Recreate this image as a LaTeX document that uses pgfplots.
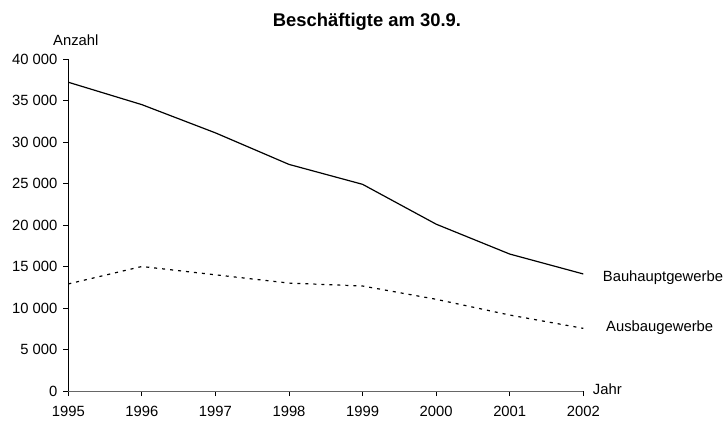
\documentclass[border=0pt]{standalone}
\usepackage{fontspec}
\setmainfont{Liberation Sans}
\usepackage{pgfplots}
\pgfplotsset{compat=1.18}
\begin{document}
\begin{tikzpicture}[x=1pt,y=1pt]
\path (0,0) rectangle (725,423);
\begin{axis}[
  at={(68.3pt,32pt)}, anchor=south west,
  scale only axis, width=515pt, height=332pt,
  xmin=1995, xmax=2002, ymin=0, ymax=40000,
  enlargelimits=false,
  scaled y ticks=false, scaled x ticks=false,
  axis x line*=bottom, axis y line*=left,
  x axis line style={black!60},
  tick align=outside, major tick length=5pt,
  tick style={black, line width=0.8pt},
  axis line style={line width=0.8pt},
  xtick={1995,1996,...,2002},
  xticklabels={1995,1996,1997,1998,1999,2000,2001,2002},
  ytick={0,5000,...,40000},
  yticklabels={0,5 000,10 000,15 000,20 000,25 000,30 000,35 000,40 000},
  tick label style={font=\fontsize{14.8}{17}\selectfont},
  xticklabel style={yshift=-7pt},
  yticklabel style={xshift=-2.5pt},
  clip=false,
]
\addplot[black, line width=1.2pt] coordinates {
 (1995,37200) (1996,34500) (1997,31100) (1998,27300) (1999,24900) (2000,20100) (2001,16500) (2002,14100)};
\addplot[black, line width=1.2pt, dash pattern=on 3pt off 5pt] coordinates {
 (1995,12900) (1996,15000) (1997,14000) (1998,13000) (1999,12650) (2000,11050) (2001,9150) (2002,7550)};
\end{axis}
\node[anchor=base, font=\fontsize{18.4}{21}\selectfont\bfseries] at (367,396.3) {Beschäftigte am 30.9.};
\node[anchor=base, inner sep=0pt, font=\fontsize{14.8}{17}\selectfont] at (75.8,377) {Anzahl};
\node[anchor=base west, inner sep=0pt, font=\fontsize{14.8}{17}\selectfont] at (592.7,29) {Jahr};
\node[anchor=base west, inner sep=0pt, font=\fontsize{14.8}{17}\selectfont] at (602.7,141.3) {Bauhauptgewerbe};
\node[anchor=base west, inner sep=0pt, font=\fontsize{14.8}{17}\selectfont] at (606,92) {Ausbaugewerbe};
\end{tikzpicture}
\end{document}
